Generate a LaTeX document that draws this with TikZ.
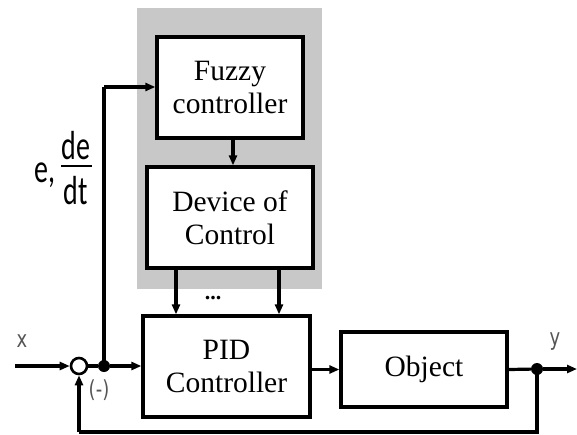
\documentclass[tikz,border=0pt]{standalone}
\usepackage{fontspec}
\setmainfont{Liberation Serif}
\newfontfamily\labelfont{DejaVu Sans}
\newfontfamily\mathlabelfont{Carlito}
\usetikzlibrary{arrows.meta,calc}
\definecolor{bandgray}{RGB}{200,200,200}
\definecolor{signalgray}{RGB}{85,85,85}
\tikzset{
  blockbox/.style={draw=black, line width=3.3pt, fill=white, inner sep=0pt,
    font=\fontsize{29.5}{33}\selectfont, align=center},
  wire/.style={line width=3.2pt},
  arr/.style={wire, -{Triangle[length=10pt,width=8pt]}},
  dotnode/.style={circle, fill=black, inner sep=0pt, minimum size=12pt},
  sumnode/.style={circle, draw=black, line width=2.6pt, fill=white, inner sep=0pt, minimum size=16pt},
  siglabel/.style={text=signalgray, font=\labelfont\fontsize{18}{20}\selectfont, yscale=1.3, transform shape},
  errlabel/.style={font=\mathlabelfont\fontsize{28}{30}\selectfont, yscale=1.45, transform shape, inner sep=0pt}
}
\begin{document}
\begin{tikzpicture}[x=1pt,y=-1pt]
  \useasboundingbox (0,0) rectangle (577,434);

  % shaded fuzzy-tuning block
  \fill[bandgray] (137,8) rectangle (322,289);

  % blocks
  \node[blockbox, minimum width=146pt, minimum height=101pt] (fuzzy) at (230,87.5) {Fuzzy\\controller};
  \node[blockbox, minimum width=166pt, minimum height=101pt] (device) at (230,217.5) {Device of\\Control};
  \node[blockbox, minimum width=167pt, minimum height=101pt] (pid) at (226.5,366.5) {PID\\Controller};
  \node[blockbox, minimum width=166pt, minimum height=75pt] (object) at (424,369.5) {Object};

  % junctions
  \node[sumnode] (sum) at (79,366) {};
  \node[dotnode] (split) at (104,366) {};
  \node[dotnode] (out) at (537,369) {};

  % free ends and corners
  \coordinate (in) at (15,366);
  \coordinate (yend) at (577,369);
  \coordinate (up) at (103,87);
  \coordinate (fbR) at (537,432);
  \coordinate (fbL) at (79,432);

  % signal flow
  \draw[arr] (in) -- (sum.west);
  \draw[wire] (sum.east) -- (split);
  \draw[arr] (split) -- (pid.west |- split);
  \draw[wire] (split.center) -- (split.center |- up);
  \draw[arr] (split.center |- up) -- (fuzzy.west |- up);
  \draw[arr] ($(fuzzy.south)+(3,0)$) -- ($(device.north)+(3,0)$);
  \draw[arr] (device.south -| 176,0) -- (pid.north -| 176,0);
  \draw[arr] (device.south -| 279,0) -- (pid.north -| 279,0);
  \draw[arr] (pid.east |- object.west) -- (object.west);
  \draw[wire] (object.east) -- (out);
  \draw[arr] (out) -- (yend);
  \draw[wire] (out.center) -- (fbR) -- (fbL);
  \draw[arr] (fbL) -- (sum.south);

  % labels
  \node[font=\bfseries\fontsize{22}{22}\selectfont] (dots) at (213,298) {...};
  \node[siglabel] (xlab) at (22,341) {x};
  \node[siglabel] (ylab) at (555,342) {y};
  \node[siglabel] (neg) at (99,390) {(-)};

  % error signal e, de/dt
  \node[errlabel, anchor=base] (elab) at (45,182) {e,};
  \node[errlabel, anchor=base] (dnum) at (76,159) {de};
  \node[errlabel, anchor=base] (dden) at (76,204) {dt};
  \draw[line width=1.6pt] (61,166) -- (92,166);
\end{tikzpicture}
\end{document}
